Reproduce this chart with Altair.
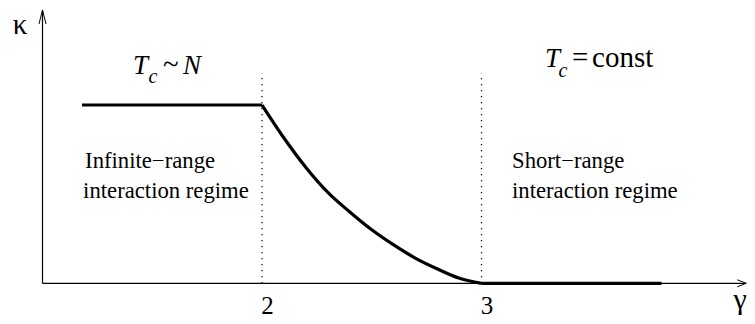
import altair as alt
import pandas as pd

# ---- data ----
curve_gamma = [1.18, 2.0, 2.1, 2.2, 2.3, 2.4, 2.5, 2.6, 2.7, 2.8, 2.9, 3.0, 3.82]
curve_kappa = [1.0, 1.0, 0.815, 0.65, 0.51, 0.40, 0.30, 0.215, 0.14, 0.08, 0.028, 0.0, 0.0]
curve_part = ["flat", "curve", "curve", "curve", "curve", "curve", "curve",
              "curve", "curve", "curve", "curve", "curve", "flat2"]

boundaries = [2, 3]
boundary_top = 1.18
tick_values = [2, 3]
tick_labels = ["2", "3"]

axis_origin = [1.0, 0.0]
axis_x_end = 4.206
axis_y_end = 1.533

regime_text = ["Infinite\u2212range", "interaction regime", "Short\u2212range", "interaction regime"]
regime_gamma = [1.194, 1.185, 3.139, 3.139]
regime_kappa = [0.647, 0.478, 0.647, 0.478]

FONT = "Liberation Serif"
W, H = 739, 308
X_DOM = [0.84282, 0.84282 + W / 219.5]
Y_DOM = [1.54403 - H / 178.3, 1.54403]

xs = alt.Scale(domain=X_DOM, nice=False, zero=False)
ys = alt.Scale(domain=Y_DOM, nice=False, zero=False)


def X(f="g"):
    return alt.X(f"{f}:Q", scale=xs, axis=None)


def Y(f="k"):
    return alt.Y(f"{f}:Q", scale=ys, axis=None)


# curve
df_curve = pd.DataFrame({"g": curve_gamma, "k": curve_kappa, "part": curve_part})
df_left = df_curve.iloc[0:2]
df_mid = df_curve[df_curve.part == "curve"]
df_right = df_curve.iloc[11:13]

line_style = dict(color="black", strokeWidth=3.2, strokeCap="butt", strokeJoin="miter")
left = alt.Chart(df_left).mark_line(**line_style).encode(x=X(), y=Y())
mid = alt.Chart(df_mid).mark_line(interpolate="monotone", **line_style).encode(x=X(), y=Y())
right = alt.Chart(df_right).mark_line(**line_style).encode(x=X(), y=Y())

# dotted boundaries
df_b = pd.DataFrame({"g": boundaries, "k0": [0.0] * len(boundaries), "k1": [boundary_top] * len(boundaries)})
dotted = alt.Chart(df_b).mark_rule(color="black", strokeWidth=1.2, strokeDash=[1.2, 4.8]).encode(
    x=X(), y=Y("k0"), y2="k1:Q")

# axes
df_ax = pd.DataFrame({"g": [axis_origin[0]], "k": [axis_origin[1]],
                      "g2": [axis_x_end], "k2": [axis_y_end]})
x_axis = alt.Chart(df_ax).mark_rule(color="black", strokeWidth=1.2).encode(
    x=X(), x2="g2:Q", y=Y())
y_axis = alt.Chart(df_ax).mark_rule(color="black", strokeWidth=1.2).encode(
    x=X(), y=Y(), y2="k2:Q")
arrow_up = alt.Chart(df_ax).mark_point(
    shape="M-3.5,14L0,0L3.5,14", size=4, filled=False, color="black", strokeWidth=1, opacity=1
).encode(x=X(), y=Y("k2"))
arrow_right = alt.Chart(df_ax).mark_point(
    shape="M-9,-3.5L0,0L-9,3.5", size=4, filled=False, color="black", strokeWidth=1, opacity=1
).encode(x=X("g2"), y=Y())

# tick labels
df_t = pd.DataFrame({"g": tick_values, "k": [-0.1722] * 2, "t": tick_labels})
ticks = alt.Chart(df_t).mark_text(font=FONT, fontSize=25, align="center", baseline="alphabetic",
                                  dx=5.5, color="black").encode(x=X(), y=Y(), text="t:N")

# axis titles
df_kappa = pd.DataFrame({"g": [0.8975], "k": [1.400], "t": ["\u03ba"]})
df_gamma = pd.DataFrame({"g": [4.178], "k": [-0.1441], "t": ["\u03b3"]})
ttl_k = alt.Chart(df_kappa).mark_text(font=FONT, fontSize=29, align="center", baseline="alphabetic",
                                      color="black").encode(x=X(), y=Y(), text="t:N")
ttl_g = alt.Chart(df_gamma).mark_text(font=FONT, fontSize=30, align="center", baseline="alphabetic",
                                      color="black").encode(x=X(), y=Y(), text="t:N")

# regime texts
df_r = pd.DataFrame({"g": regime_gamma, "k": regime_kappa, "t": regime_text})
regimes = alt.Chart(df_r).mark_text(font=FONT, fontSize=22.7, align="left", baseline="alphabetic",
                                    color="black").encode(x=X(), y=Y(), text="t:N")

# formulas  T_c ~ N   and   T_c = const
df_T = pd.DataFrame({"g": [1.412, 3.289], "k": [1.174, 1.213], "t": ["T", "T"]})
df_c = pd.DataFrame({"g": [1.483, 3.351], "k": [1.123, 1.157], "t": ["c", "c"]})
df_N = pd.DataFrame({"g": [1.640], "k": [1.174], "t": ["N"]})
df_op = pd.DataFrame({"g": [1.549, 3.412, 3.5035], "k": [1.174, 1.213, 1.213], "t": ["~", "=", "const"]})

f_T = alt.Chart(df_T).mark_text(font=FONT, fontSize=27, fontStyle="italic", align="left",
                                baseline="alphabetic", color="black").encode(x=X(), y=Y(), text="t:N")
f_c = alt.Chart(df_c).mark_text(font=FONT, fontSize=20, fontStyle="italic", align="left",
                                baseline="alphabetic", color="black").encode(x=X(), y=Y(), text="t:N")
f_N = alt.Chart(df_N).mark_text(font=FONT, fontSize=27, fontStyle="italic", align="left",
                                baseline="alphabetic", color="black").encode(x=X(), y=Y(), text="t:N")
f_op = alt.Chart(df_op).mark_text(font=FONT, fontSize=29, align="left",
                                  baseline="alphabetic", color="black").encode(x=X(), y=Y(), text="t:N")

chart = alt.layer(
    dotted, x_axis, y_axis, arrow_up, arrow_right, left, mid, right,
    ticks, ttl_k, ttl_g, regimes, f_T, f_c, f_N, f_op
).properties(
    width=W, height=H, padding=0,
    autosize=alt.AutoSizeParams(type="none"),
).configure(
    background="white",
    view=alt.ViewConfig(stroke=None, strokeWidth=0),
)

chart.save("out.html", embed_options={"renderer": "svg", "actions": False})
